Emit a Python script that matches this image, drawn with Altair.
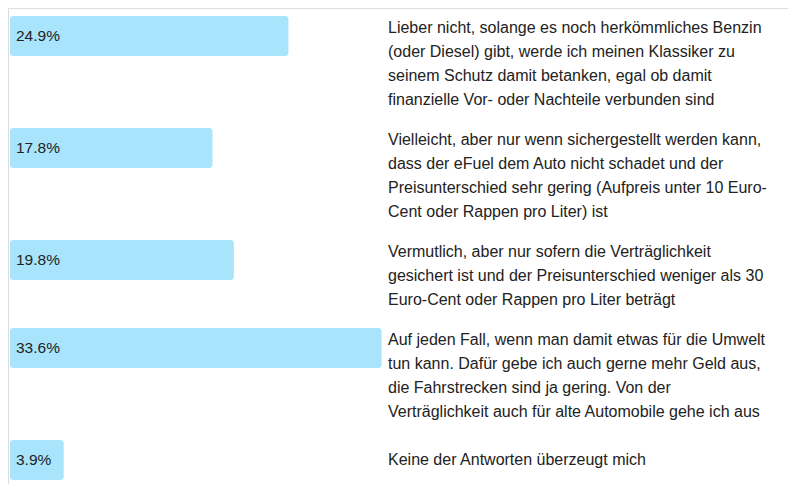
import altair as alt
import pandas as pd

values = [24.9, 17.8, 19.8, 33.6, 3.9]
labels = ["24.9%", "17.8%", "19.8%", "33.6%", "3.9%"]
answers = [
    ["Lieber nicht, solange es noch herkömmliches Benzin",
     "(oder Diesel) gibt, werde ich meinen Klassiker zu",
     "seinem Schutz damit betanken, egal ob damit",
     "finanzielle Vor- oder Nachteile verbunden sind"],
    ["Vielleicht, aber nur wenn sichergestellt werden kann,",
     "dass der eFuel dem Auto nicht schadet und der",
     "Preisunterschied sehr gering (Aufpreis unter 10 Euro-",
     "Cent oder Rappen pro Liter) ist"],
    ["Vermutlich, aber nur sofern die Verträglichkeit",
     "gesichert ist und der Preisunterschied weniger als 30",
     "Euro-Cent oder Rappen pro Liter beträgt"],
    ["Auf jeden Fall, wenn man damit etwas für die Umwelt",
     "tun kann. Dafür gebe ich auch gerne mehr Geld aus,",
     "die Fahrstrecken sind ja gering. Von der",
     "Verträglichkeit auch für alte Automobile gehe ich aus"],
    ["Keine der Antworten überzeugt mich"],
]

LINE_H = 24
BAR_H = 40
GAP = 16
TOP = 8

bar_rows = []
text_rows = []
top = TOP
for i, (v, lab, lines) in enumerate(zip(values, labels, answers)):
    n = len(lines)
    block = max(BAR_H, n * LINE_H)
    bar_rows.append({"row": i, "value": v, "label": lab, "y0": top, "y1": top + BAR_H,
                     "ymid": top + BAR_H / 2})
    off = (block - n * LINE_H) / 2
    for j, line in enumerate(lines):
        text_rows.append({"row": i, "line": line, "y": top + off + LINE_H / 2 + j * LINE_H})
    top += n * LINE_H + GAP

bars_df = pd.DataFrame(bar_rows)
text_df = pd.DataFrame(text_rows)

H = 476
yscale = alt.Scale(domain=[0, H], reverse=True, zero=False, nice=False)
xscale = alt.Scale(domain=[0, 40], range=[14, 14 + 40 * 10.7], zero=False, nice=False)

FONT = "Liberation Sans"

bars = alt.Chart(bars_df).mark_bar(
    color="#a8e5fd", cornerRadius=3, x2Offset=-12
).encode(
    x=alt.X("value:Q", scale=xscale, axis=None),
    x2=alt.datum(0),
    y=alt.Y("y0:Q", scale=yscale, axis=None),
    y2="y1:Q",
)

bar_labels = alt.Chart(bars_df).mark_text(
    align="left", baseline="middle", font=FONT, fontSize=15.5, color="#222222"
).encode(
    x=alt.value(8),
    y=alt.Y("ymid:Q", scale=yscale, axis=None),
    text="label:N",
)

answer_text = alt.Chart(text_df).mark_text(
    align="left", baseline="middle", font=FONT, fontSize=16, color="#222222"
).encode(
    x=alt.value(380),
    y=alt.Y("y:Q", scale=yscale, axis=None),
    text="line:N",
)

chart = alt.layer(bars, bar_labels, answer_text).properties(
    width=780, height=H, padding=0,
    autosize=alt.AutoSizeParams(type="none"),
).configure_view(stroke="#ffffff", strokeWidth=0, fill="#ffffff").configure(background="#ffffff")

chart.save("out.html", embed_options={"renderer": "svg", "actions": False})
